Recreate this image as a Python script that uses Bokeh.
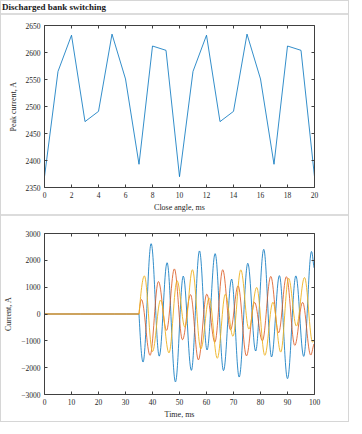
from bokeh.plotting import figure
from bokeh.models import LinearAxis, FixedTicker, Div, Range1d, ColumnDataSource, CustomLabelingPolicy
from bokeh.layouts import column
from bokeh.embed import file_html
from bokeh.resources import INLINE

# ---------------- data ----------------
title_text = "Discharged bank switching"

close_angle = list(range(21))
peak_current = [2370, 2565, 2632, 2472, 2491, 2634, 2551, 2393, 2612, 2604,
                2370, 2565, 2632, 2472, 2491, 2634, 2551, 2393, 2612, 2604, 2370]

top_xticks = list(range(0, 21, 2))
top_yticks = list(range(2350, 2651, 50))
bot_xticks = list(range(0, 101, 10))
bot_yticks = list(range(-3000, 3001, 1000))

# extrema of the three phase currents (time ms, current A)
blue_t = [0, 35, 36.5, 39.5, 42.5, 45.4, 48.5, 51.4, 54.4, 57.4, 60.2, 63.2, 66.3,
          69.3, 72.1, 75.3, 78.2, 81.2, 84.1, 87.0, 90.0, 93.1, 96.0, 98.9, 100]
blue_i = [0, 0, -1790, 2620, -1570, 1910, -2530, 1410, -2100, 2350, -1340, 2250, -2110,
          1300, -2350, 1890, -1380, 2410, -1600, 1430, -2410, 1420, -1580, 2330, 1700]

orange_t = [0, 35, 35.9, 39.1, 42.2, 45.2, 48.1, 51.1, 54.1, 57.0, 60.1, 63.1, 66.0,
            68.9, 71.7, 74.8, 77.8, 80.7, 83.8, 86.7, 89.6, 92.7, 95.6, 98.6, 100]
orange_i = [0, 0, 540, -1540, 1210, -610, 1680, -960, 720, -1710, 740, -1050, 1650,
            -590, 1050, -1560, 433, -1000, 1400, -700, 1390, -1170, 433, -1530, -1100]

yellow_t = [0, 35, 37.0, 40.0, 43.0, 46.1, 49.1, 52.0, 54.8, 57.9, 61.0, 64.0, 67.0,
            69.8, 72.7, 75.7, 78.6, 81.6, 84.6, 87.5, 90.4, 93.3, 96.3, 99.3, 100]
yellow_i = [0, 0, 1420, -1400, 520, -1450, 1240, -490, 1650, -1300, 600, -1650, 740,
            -830, 1645, -560, 990, -1540, 440, -1420, 1330, -450, 1360, -1050, -950]

BLUE = "#0072BD"
ORANGE = "#D95319"
YELLOW = "#EDB120"
AXC = "#404040"
TXT = "#262626"
SERIF = "Liberation Serif"


def segments(t, v):
    """Smooth cubic segments between consecutive read extrema."""
    k = 0.3634
    d = dict(x0=[], y0=[], x1=[], y1=[], cx0=[], cy0=[], cx1=[], cy1=[])
    for i in range(len(t) - 1):
        x0, y0, x1, y1 = t[i], v[i], t[i + 1], v[i + 1]
        dx = x1 - x0
        if i > 0 and y0 == 0 and v[i - 1] == 0 and y1 != 0:
            cx0, cy0 = x0 + 0.334 * dx, y0 + 0.525 * (y1 - y0)
            cx1, cy1 = x0 + 0.637 * dx, y1
        else:
            cx0, cy0 = x0 + k * dx, y0
            cx1, cy1 = x1 - k * dx, y1
        for key, val in zip(d.keys(), (x0, y0, x1, y1, cx0, cy0, cx1, cy1)):
            d[key].append(val)
    return ColumnDataSource(d)


def style(p, xticks, yticks):
    for ax in (p.xaxis[0], p.yaxis[0]):
        ax.axis_line_color = AXC
        ax.major_tick_line_color = AXC
        ax.major_tick_in = 3
        ax.major_tick_out = 0
        ax.minor_tick_line_color = None
        ax.major_label_text_font = SERIF
        ax.major_label_text_font_size = "7.5px"
        ax.major_label_text_color = TXT
        ax.axis_label_text_font = SERIF
        ax.axis_label_text_font_size = "8px"
        ax.axis_label_text_font_style = "normal"
        ax.axis_label_text_color = TXT
    p.xaxis[0].ticker = FixedTicker(ticks=xticks)
    p.yaxis[0].ticker = FixedTicker(ticks=yticks)
    p.xaxis[0].major_label_standoff = 4
    p.yaxis[0].major_label_standoff = 4
    p.xaxis[0].axis_label_standoff = 2
    p.yaxis[0].axis_label_standoff = 5
    top = LinearAxis(ticker=FixedTicker(ticks=xticks))
    right = LinearAxis(ticker=FixedTicker(ticks=yticks))
    for ax in (top, right):
        ax.axis_line_color = AXC
        ax.major_tick_line_color = AXC
        ax.major_tick_in = 3
        ax.major_tick_out = 0
        ax.minor_tick_line_color = None
        ax.major_label_standoff = 0
        ax.major_label_text_font_size = "7px"
        ax.major_label_policy = CustomLabelingPolicy(code="if (false) { yield 0 }")
    p.add_layout(top, "above")
    p.add_layout(right, "right")
    p.xgrid.visible = False
    p.ygrid.visible = False
    p.outline_line_color = None
    p.background_fill_color = "white"
    p.border_fill_color = "white"


W = 347

title = Div(text=title_text, width=W, height=12, margin=0,
            styles={"font-family": SERIF, "font-weight": "bold", "font-size": "9px",
                    "color": "#1a1a1a", "padding-left": "1px", "line-height": "12px",
                    "box-sizing": "border-box"})
sep1 = Div(text="", width=W, height=2, margin=0, styles={"background-color": "#dcdcdc"})
sep2 = Div(text="", width=W, height=2, margin=0, styles={"background-color": "#dcdcdc"})

p1 = figure(width=W, height=199, output_backend="svg", toolbar_location=None,
            x_range=Range1d(0, 20), y_range=Range1d(2350, 2650),
            min_border_left=41, min_border_right=34, min_border_top=10, min_border_bottom=26,
            x_axis_label="Close angle, ms", y_axis_label="Peak current, A")
p1.line(close_angle, peak_current, line_color=BLUE, line_width=1, line_alpha=0.8)
style(p1, top_xticks, top_yticks)

p2 = figure(width=W, height=205, output_backend="svg", toolbar_location=None,
            x_range=Range1d(0, 100), y_range=Range1d(-3000, 3000),
            min_border_left=41, min_border_right=34, min_border_top=17, min_border_bottom=26,
            x_axis_label="Time, ms", y_axis_label="Current, A")
for t, v, c, a in ((blue_t, blue_i, BLUE, 0.8), (orange_t, orange_i, ORANGE, 0.8),
                   (yellow_t, yellow_i, YELLOW, 0.9)):
    src = segments(t, v)
    p2.bezier(x0="x0", y0="y0", x1="x1", y1="y1", cx0="cx0", cy0="cy0", cx1="cx1", cy1="cy1",
              source=src, line_color=c, line_width=1, line_alpha=a)
style(p2, bot_xticks, bot_yticks)

layout = column(title, sep1, p1, sep2, p2, spacing=0,
                styles={"border": "1px solid #d6d6d6"})

open("out.html", "w").write(file_html(layout, INLINE))
